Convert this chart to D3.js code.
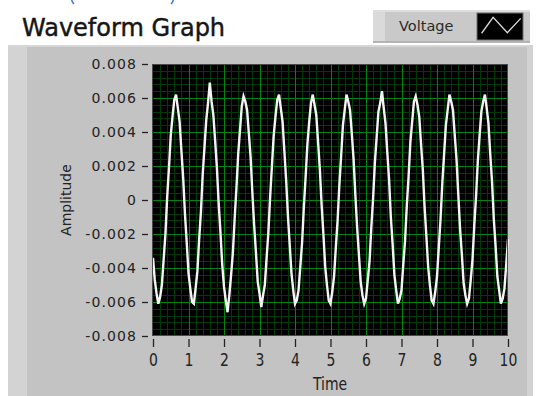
<!DOCTYPE html>
<html>
<head>
<meta charset="utf-8">
<script src="https://cdn.jsdelivr.net/npm/d3@7"></script>
<style>
  html, body { margin: 0; padding: 0; background: #fff; }
  svg { display: block; font-family: "DejaVu Sans", sans-serif; }
</style>
</head>
<body>
<svg id="chart" width="541" height="396"></svg>
<script>
// Waveform: start time, sample interval, and sampled amplitudes (V)
const t0 = 0;
const dt = 0.05;
const voltage = [
  -0.0034, -0.0047, -0.0055, -0.0061, -0.0057, -0.0050, -0.0035, -0.0020, 0.0002, 0.0019,
   0.0038,  0.0049,  0.0059,  0.0062,  0.0054,  0.0046,  0.0029,  0.0013, -0.0008, -0.0025,
  -0.0043, -0.0052, -0.0060, -0.0061, -0.0052, -0.0042, -0.0023, -0.0007, 0.0015, 0.0031,
   0.0047,  0.0057,  0.0069,  0.0058,  0.0050,  0.0035,  0.0019, -0.0002, -0.0019, -0.0038,
  -0.0051, -0.0059, -0.0066, -0.0056, -0.0044, -0.0031, -0.0011,  0.0007, 0.0027, 0.0041,
   0.0055,  0.0061,  0.0058,  0.0053,  0.0039,  0.0025,  0.0004, -0.0015, -0.0031, -0.0048,
  -0.0055, -0.0063, -0.0056, -0.0050, -0.0034, -0.0019,  0.0002,  0.0020, 0.0038, 0.0049,
   0.0059,  0.0062,  0.0054,  0.0046,  0.0029,  0.0012, -0.0009, -0.0026, -0.0043, -0.0053,
  -0.0061, -0.0059, -0.0053, -0.0039, -0.0025, -0.0004,  0.0014,  0.0033, 0.0046, 0.0057,
   0.0062,  0.0056,  0.0050,  0.0034,  0.0018, -0.0003, -0.0020, -0.0039, -0.0050, -0.0059,
  -0.0061, -0.0054, -0.0045, -0.0028, -0.0012,  0.0009,  0.0026,  0.0044, 0.0053, 0.0062,
   0.0058,  0.0053,  0.0039,  0.0024,  0.0003, -0.0016, -0.0032, -0.0048, -0.0056, -0.0061,
  -0.0058, -0.0047, -0.0036, -0.0016,  0.0001,  0.0022,  0.0037,  0.0052, 0.0057, 0.0064,
   0.0054,  0.0045,  0.0028,  0.0012, -0.0010, -0.0026, -0.0044, -0.0053, -0.0061, -0.0058,
  -0.0053, -0.0038, -0.0024, -0.0003,  0.0014,  0.0034,  0.0046,  0.0058, 0.0061, 0.0056,
   0.0049,  0.0033,  0.0018, -0.0004, -0.0021, -0.0039, -0.0050, -0.0059, -0.0061, -0.0054,
  -0.0045, -0.0028, -0.0011,  0.0010,  0.0027,  0.0044,  0.0053,  0.0062, 0.0058, 0.0053,
   0.0038,  0.0024,  0.0003, -0.0017, -0.0032, -0.0049, -0.0056, -0.0061, -0.0058, -0.0047,
  -0.0035, -0.0015,  0.0002,  0.0023,  0.0038,  0.0052,  0.0058,  0.0062, 0.0054, 0.0045,
   0.0027,  0.0011, -0.0011, -0.0027, -0.0045, -0.0053, -0.0061, -0.0058, -0.0052, -0.0038,
  -0.0023
];

// Axis scales and tick values
const xDomain = [0, 10];
const yDomain = [-0.008, 0.008];
const xTicks = [0, 1, 2, 3, 4, 5, 6, 7, 8, 9, 10];
const yTicks = [-0.008, -0.006, -0.004, -0.002, 0, 0.002, 0.004, 0.006, 0.008];
const minorPerMajor = 5;

const title = "Waveform Graph";
const seriesName = "Voltage";
const xTitle = "Time";
const yTitle = "Amplitude";

const svg = d3.select("#chart");
const plot = { left: 152, right: 508, top: 64, bottom: 336 };

const x = d3.scaleLinear().domain(xDomain).range([plot.left + 1, plot.right]);
const y = d3.scaleLinear().domain(yDomain).range([plot.bottom, plot.top]);

// Lower tips of a blue bracket pair running off the top edge
const bracket = svg.append("g").attr("fill", "none").attr("stroke", "#3d7fd6").attr("stroke-width", 1.6);
bracket.append("path").attr("d", "M71,-4 Q71.5,2 74,4");
bracket.append("path").attr("d", "M174,-4 Q173.5,2 171,4");

// Title label
svg.append("text")
  .attr("x", 22).attr("y", 36)
  .attr("font-size", 24)
  .attr("fill", "#161616")
  .attr("stroke", "#161616").attr("stroke-width", 0.45)
  .text(title);

// Legend (plot legend with line swatch)
const lg = svg.append("g");
lg.append("rect").attr("x", 373).attr("y", 10).attr("width", 157).attr("height", 33).attr("fill", "#c9c9c9");
lg.append("rect").attr("x", 373).attr("y", 10).attr("width", 12).attr("height", 33).attr("fill", "#dadada");
lg.append("rect").attr("x", 373).attr("y", 10).attr("width", 157).attr("height", 2).attr("fill", "#dedede");
lg.append("rect").attr("x", 373).attr("y", 41).attr("width", 157).attr("height", 2).attr("fill", "#b4b4b4");
lg.append("text")
  .attr("x", 399).attr("y", 31)
  .attr("font-size", 14.5)
  .attr("fill", "#2a2a2a")
  .text(seriesName);
const sw = { x: 477, y: 13, w: 46, h: 27 };
lg.append("rect").attr("x", sw.x).attr("y", sw.y).attr("width", sw.w).attr("height", sw.h)
  .attr("fill", "#000").attr("stroke", "#6e6e6e").attr("stroke-width", 1);
const swPts = [[0.1, 0.75], [0.35, 0.16], [0.66, 0.73], [0.95, 0.2]];
lg.append("path")
  .attr("d", d3.line()(swPts.map(([u, v]) => [sw.x + u * sw.w, sw.y + v * sw.h])))
  .attr("fill", "none").attr("stroke", "#d8d8d8").attr("stroke-width", 1.3);

// Graph panel
const panel = svg.append("g");
panel.append("rect").attr("x", 8).attr("y", 45).attr("width", 525).attr("height", 351).attr("fill", "#c3c3c3");
panel.append("rect").attr("x", 8).attr("y", 45).attr("width", 19).attr("height", 351).attr("fill", "#d3d3d3");
panel.append("rect").attr("x", 8).attr("y", 45).attr("width", 525).attr("height", 2).attr("fill", "#d6d6d6");
panel.append("rect").attr("x", 527).attr("y", 45).attr("width", 6).attr("height", 351).attr("fill", "#d2d2d2");

// Plot area
svg.append("rect")
  .attr("x", plot.left).attr("y", plot.top)
  .attr("width", plot.right - plot.left).attr("height", plot.bottom - plot.top)
  .attr("fill", "#000");

// Minor grid
const grid = svg.append("g").attr("shape-rendering", "crispEdges");
const xStep = xTicks[1] - xTicks[0];
const yStep = yTicks[1] - yTicks[0];
const xMinor = [], yMinor = [];
xTicks.slice(0, -1).forEach(v => { for (let i = 1; i < minorPerMajor; i++) xMinor.push(v + i * xStep / minorPerMajor); });
yTicks.slice(0, -1).forEach(v => { for (let i = 1; i < minorPerMajor; i++) yMinor.push(v + i * yStep / minorPerMajor); });

grid.selectAll(".vmin").data(xMinor).join("line")
  .attr("x1", d => Math.round(x(d)) + 0.5).attr("x2", d => Math.round(x(d)) + 0.5)
  .attr("y1", plot.top).attr("y2", plot.bottom)
  .attr("stroke", "#003a08").attr("stroke-width", 1);
grid.selectAll(".hmin").data(yMinor).join("line")
  .attr("y1", d => Math.round(y(d)) + 0.5).attr("y2", d => Math.round(y(d)) + 0.5)
  .attr("x1", plot.left).attr("x2", plot.right)
  .attr("stroke", "#003a08").attr("stroke-width", 1);
// Major grid
grid.selectAll(".vmaj").data(xTicks.slice(1, -1)).join("line")
  .attr("x1", d => Math.round(x(d)) + 0.5).attr("x2", d => Math.round(x(d)) + 0.5)
  .attr("y1", plot.top).attr("y2", plot.bottom)
  .attr("stroke", "#00860e").attr("stroke-width", 1);
grid.selectAll(".hmaj").data(yTicks.slice(1, -1)).join("line")
  .attr("y1", d => Math.round(y(d)) + 0.5).attr("y2", d => Math.round(y(d)) + 0.5)
  .attr("x1", plot.left).attr("x2", plot.right)
  .attr("stroke", "#00860e").attr("stroke-width", 1);

// Waveform trace
const line = d3.line()
  .x((d, i) => x(t0 + i * dt))
  .y(d => y(d));
svg.append("path")
  .datum(voltage)
  .attr("d", line)
  .attr("fill", "none")
  .attr("stroke", "#f4f4f4")
  .attr("stroke-width", 2.4)
  .attr("stroke-linejoin", "miter");

// Plot frame
svg.append("rect")
  .attr("x", plot.left + 0.5).attr("y", plot.top + 0.5)
  .attr("width", plot.right - plot.left - 1).attr("height", plot.bottom - plot.top - 1)
  .attr("fill", "none").attr("stroke", "#4a4a4a").attr("stroke-width", 1);

// Y axis
const yAxis = svg.append("g")
  .attr("transform", `translate(148,0)`)
  .call(d3.axisLeft(y).tickValues(yTicks).tickSize(6).tickPadding(5).tickSizeOuter(0)
    .tickFormat(d => d === 0 ? "0" : d.toFixed(3)));
yAxis.select(".domain").remove();
yAxis.selectAll("line").attr("stroke", "#222").attr("stroke-width", 1.3);
yAxis.selectAll("text")
  .attr("font-family", "DejaVu Sans, sans-serif")
  .attr("font-size", 14)
  .attr("letter-spacing", 1.1)
  .attr("fill", "#222");

// X axis
const xAxis = svg.append("g")
  .attr("transform", `translate(0,339)`)
  .call(d3.axisBottom(x).tickValues(xTicks).tickSize(8).tickSizeOuter(0)
    .tickFormat(d => String(d)));
xAxis.select(".domain").remove();
xAxis.selectAll("line").attr("stroke", "#222").attr("stroke-width", 1.3);
xAxis.selectAll("text")
  .attr("y", 0).attr("dy", 0)
  .attr("transform", "translate(0,27) scale(1,1.3)")
  .attr("font-family", "DejaVu Sans, sans-serif")
  .attr("font-size", 14)
  .attr("fill", "#222");

// Axis titles
svg.append("text")
  .attr("transform", `translate(${(plot.left + plot.right) / 2},390) scale(1,1.3)`)
  .attr("text-anchor", "middle")
  .attr("font-size", 14)
  .attr("fill", "#222")
  .text(xTitle);
svg.append("text")
  .attr("transform", `translate(71,${(plot.top + plot.bottom) / 2}) rotate(-90)`)
  .attr("text-anchor", "middle")
  .attr("font-size", 14)
  .attr("fill", "#222")
  .text(yTitle);
</script>
</body>
</html>
